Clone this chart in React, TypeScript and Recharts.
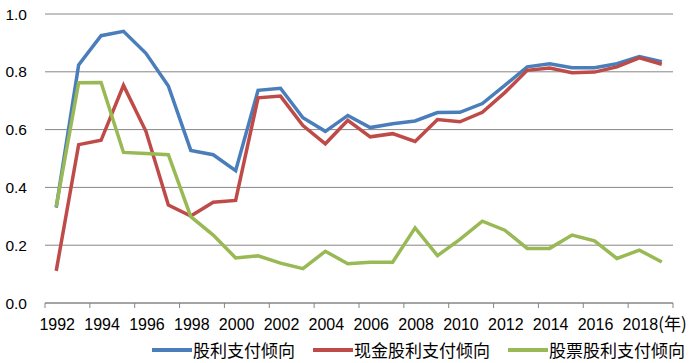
import { LineChart, Line, XAxis, YAxis, CartesianGrid } from 'recharts';

const YEARS = [
    1992, 1993, 1994, 1995, 1996, 1997, 1998, 1999, 2000, 2001, 2002, 2003, 2004, 2005,
    2006, 2007, 2008, 2009, 2010, 2011, 2012, 2013, 2014, 2015, 2016, 2017, 2018, 2019,
];

// 股利支付倾向
const PAYOUT = [
    0.33, 0.824, 0.925, 0.94, 0.864, 0.751, 0.528, 0.513, 0.458, 0.736, 0.743, 0.641, 0.594, 0.649,
    0.607, 0.62, 0.63, 0.659, 0.66, 0.69, 0.753, 0.817, 0.828, 0.814, 0.814, 0.828, 0.853, 0.835,
];

// 现金股利支付倾向
const CASH = [
    0.111, 0.548, 0.563, 0.753, 0.594, 0.339, 0.301, 0.349, 0.355, 0.71, 0.716, 0.614, 0.551, 0.632,
    0.575, 0.586, 0.559, 0.635, 0.627, 0.66, 0.728, 0.805, 0.813, 0.797, 0.799, 0.817, 0.848, 0.826,
];

// 股票股利支付倾向
const STOCK = [
    0.333, 0.762, 0.763, 0.521, 0.517, 0.513, 0.299, 0.235, 0.156, 0.163, 0.138, 0.119, 0.179, 0.136,
    0.141, 0.141, 0.26, 0.164, 0.22, 0.283, 0.252, 0.189, 0.189, 0.235, 0.215, 0.154, 0.183, 0.142,
];

const SERIES = [
    { key: 'payout', name: '股利支付倾向', color: '#4A7EBB' },
    { key: 'cash', name: '现金股利支付倾向', color: '#BE4B48' },
    { key: 'stock', name: '股票股利支付倾向', color: '#98B954' },
];

const Y_TICKS = [0, 0.2, 0.4, 0.6, 0.8, 1.0];
// tick marks sit on the boundaries between every second year
const X_TICKS = [
    1991.5, 1993.5, 1995.5, 1997.5, 1999.5, 2001.5, 2003.5, 2005.5,
    2007.5, 2009.5, 2011.5, 2013.5, 2015.5, 2017.5, 2019.5,
];

const W = 700;
const H = 363;
const LEFT = 45;
const RIGHT = 27;
const HALF_YEAR = (W - LEFT - RIGHT) / YEARS.length / 2;

const data = YEARS.map((year, i) => ({
    year,
    payout: PAYOUT[i],
    cash: CASH[i],
    stock: STOCK[i],
}));

const numFont = '"Liberation Sans", Arial, sans-serif';
const cjkFont = '"Noto Sans CJK SC", sans-serif';

const YearTick = ({ x, y, payload }: any) => {
    const v = payload.value as number;
    const last = v >= 2019;
    const label = v + 0.5;
    const cx = x + HALF_YEAR + 1;
    return (
        <g>
            <line x1={x} y1={y} x2={x} y2={y + 5} stroke="#868686" strokeWidth={1} />
            {!last && (
                <text x={cx} y={y + 27} textAnchor="middle" fontSize={16} fontFamily={numFont} fill="#000">
                    {label}
                </text>
            )}
            {label === 2018 && (
                <text x={cx + 18} y={y + 27} textAnchor="start" fontSize={17} fontFamily={cjkFont} fill="#000">
                    (年)
                </text>
            )}
        </g>
    );
};

export default function App() {
    return (
        <div style={{ position: 'absolute', left: 0, top: 0, width: W, height: H, background: '#fff' }}>
            <LineChart width={W} height={H} data={data} margin={{ top: 14, right: RIGHT, bottom: 0, left: 0 }}>
                <CartesianGrid vertical={false} stroke="#868686" strokeWidth={1} />
                <XAxis
                    dataKey="year"
                    type="number"
                    domain={[1991.5, 2019.5]}
                    ticks={X_TICKS}
                    interval={0}
                    height={60}
                    tickSize={0}
                    tickMargin={0}
                    tickLine={false}
                    axisLine={{ stroke: '#868686' }}
                    tick={<YearTick />}
                />
                <YAxis
                    domain={[0, 1]}
                    ticks={Y_TICKS}
                    width={LEFT}
                    axisLine={false}
                    tickLine={false}
                    tickSize={0}
                    tickMargin={18}
                    tickFormatter={(v: number) => v.toFixed(1)}
                    tick={{ fontSize: 15.5, fontFamily: numFont, fill: '#000' }}
                />
                {SERIES.map(s => (
                    <Line
                        key={s.key}
                        dataKey={s.key}
                        name={s.name}
                        type="linear"
                        stroke={s.color}
                        strokeWidth={3.5}
                        dot={false}
                        isAnimationActive={false}
                    />
                ))}
            </LineChart>
            <div
                style={{
                    position: 'absolute',
                    left: 152,
                    top: 341,
                    display: 'flex',
                    alignItems: 'center',
                    fontFamily: cjkFont,
                    fontSize: 17,
                    lineHeight: '18px',
                    color: '#000',
                    whiteSpace: 'nowrap',
                }}
            >
                {SERIES.map(s => (
                    <div key={s.key} style={{ display: 'flex', alignItems: 'center', marginRight: 18 }}>
                        <span style={{ display: 'inline-block', width: 40, height: 4, background: s.color, marginRight: 1 }} />
                        <span>{s.name}</span>
                    </div>
                ))}
            </div>
        </div>
    );
}
